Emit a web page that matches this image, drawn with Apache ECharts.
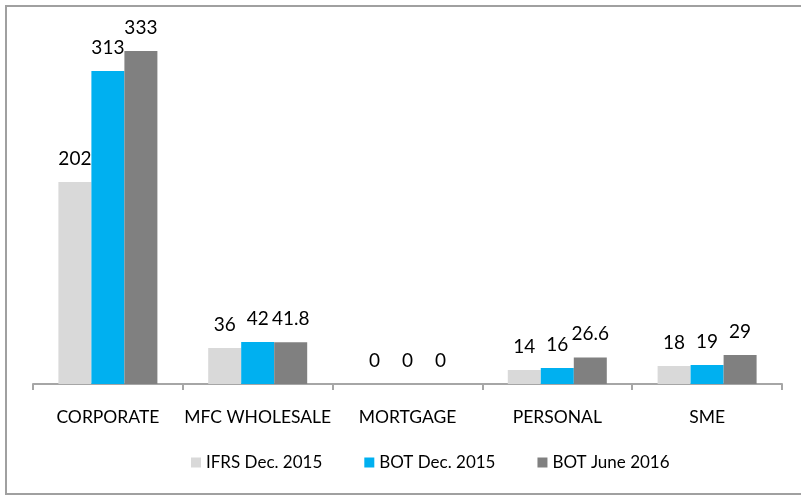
<!DOCTYPE html>
<html>
<head>
<meta charset="utf-8">
<script src="https://cdn.jsdelivr.net/npm/echarts@6/dist/echarts.min.js"></script>
<style>
	html, body { margin: 0; padding: 0; background: #fff; }
	#frame { position: absolute; left: 5px; top: 5px; width: 820px; height: 486px; border: 2px solid #a0a0a0; }
	#main { position: absolute; left: 0; top: 0; width: 801px; height: 498px; }
</style>
</head>
<body>
<div id="frame"></div>
<div id="main"></div>
<script>
var categories = ['CORPORATE', 'MFC WHOLESALE', 'MORTGAGE', 'PERSONAL', 'SME'];
var seriesNames = ['IFRS Dec. 2015', 'BOT Dec. 2015', 'BOT June 2016'];
var ifrsDec2015 = [202, 36, 0, 14, 18];
var botDec2015 = [313, 42, 0, 16, 19];
var botJune2016 = [333, 41.8, 0, 26.6, 29];
var colors = ['#d9d9d9', '#00b0f0', '#808080'];

var FONT = 'Lato, "Open Sans", sans-serif';

function makeSeries(name, data, color) {
	return {
		name: name,
		type: 'bar',
		data: data,
		barWidth: 33,
		barGap: '0%',
		itemStyle: { color: color },
		label: {
			show: true,
			position: 'top',
			distance: 14,
			color: '#000',
			fontSize: 19,
			fontFamily: FONT
		}
	};
}

var myChart = echarts.init(document.getElementById('main'));
myChart.setOption({
	animation: false,
	grid: { left: 33, right: 19, top: 34, bottom: 114 },
	legend: {
		data: seriesNames,
		bottom: 22,
		left: 186,
		itemWidth: 10,
		itemHeight: 10,
		itemGap: 42,
		icon: 'rect',
		textStyle: { fontSize: 17, color: '#000', fontFamily: FONT }
	},
	xAxis: {
		type: 'category',
		data: categories,
		axisLine: { lineStyle: { color: '#a6a6a6', width: 2 } },
		axisTick: { show: true, length: 6, lineStyle: { color: '#a6a6a6', width: 2 } },
		axisLabel: { interval: 0, margin: 24, fontSize: 17.5, color: '#000', fontFamily: FONT }
	},
	yAxis: {
		type: 'value',
		min: 0,
		max: 350,
		show: false,
		splitLine: { show: false }
	},
	series: [
		makeSeries(seriesNames[0], ifrsDec2015, colors[0]),
		makeSeries(seriesNames[1], botDec2015, colors[1]),
		makeSeries(seriesNames[2], botJune2016, colors[2])
	]
});
</script>
</body>
</html>
